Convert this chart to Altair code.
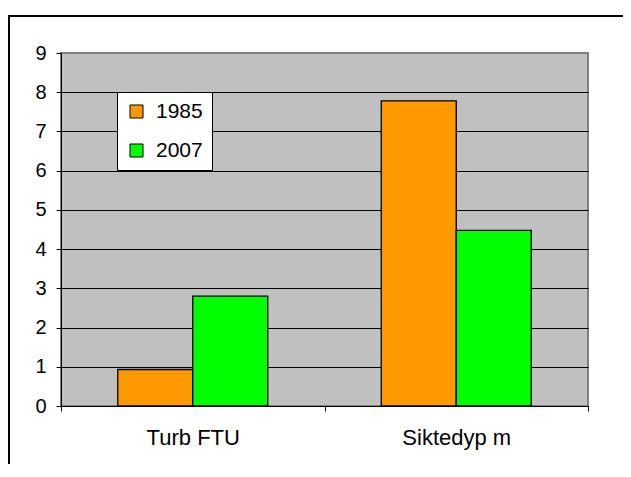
import altair as alt
import pandas as pd

categories = ["Turb FTU", "Siktedyp m"]
years = ["1985", "2007"]
values_1985 = [0.93, 7.78]
values_2007 = [2.8, 4.48]
colors = ["#FF9900", "#00FF00"]
y_ticks = list(range(0, 10))

rows = []
for c, v in zip(categories, values_1985):
    rows.append({"category": c, "year": "1985", "value": v})
for c, v in zip(categories, values_2007):
    rows.append({"category": c, "year": "2007", "value": v})
df = pd.DataFrame(rows)

W, H = 527, 353
PAD = {"left": 53, "top": 45, "right": 35, "bottom": 58}

bars = alt.Chart(df).mark_bar(stroke="black", strokeWidth=1.3).encode(
    x=alt.X("category:N", sort=categories,
            scale=alt.Scale(paddingInner=0, paddingOuter=0),
            axis=alt.Axis(title=None, labelAngle=0, tickBand="extent",
                          labelFontSize=22, labelPadding=16, tickSize=5,
                          tickColor="black", domainColor="black",
                          labelColor="black", grid=False)),
    xOffset=alt.XOffset("year:N", sort=years,
                        scale=alt.Scale(paddingInner=0, paddingOuter=0.757)),
    y=alt.Y("value:Q",
            scale=alt.Scale(domain=[0, 9], nice=False),
            axis=alt.Axis(title=None, values=y_ticks, labelFontSize=20,
                          labelPadding=10, tickSize=5, tickColor="black",
                          domainColor="black", labelColor="black",
                          grid=True,
                          gridColor=alt.condition(alt.datum.value == 9,
                                                  alt.value("#808080"),
                                                  alt.value("black")),
                          gridWidth=1)),
    color=alt.Color("year:N", sort=years,
                    scale=alt.Scale(domain=years, range=colors),
                    legend=alt.Legend(title=None, orient="none",
                                      legendX=56, legendY=39,
                                      fillColor="white", strokeColor="black",
                                      padding=9, symbolType="square",
                                      symbolSize=169, symbolStrokeColor="black",
                                      symbolStrokeWidth=1, labelFontSize=21,
                                      rowPadding=17, labelOffset=9,
                                      labelColor="black")),
)

border = alt.Chart(pd.DataFrame({"a": [0]})).mark_rect(
    filled=False, stroke="black", strokeWidth=2
).encode(
    x=alt.value(-52), y=alt.value(-37), x2=alt.value(620), y2=alt.value(460)
)

chart = alt.layer(bars, border).properties(
    width=W, height=H,
    autosize=alt.AutoSizeParams(type="none"),
    padding=PAD,
    background="white",
).configure(
    font="Liberation Sans"
).configure_view(
    fill="#C0C0C0", stroke="#808080", strokeWidth=2
)

chart.save("out.html", embed_options={"renderer": "svg", "actions": False})
